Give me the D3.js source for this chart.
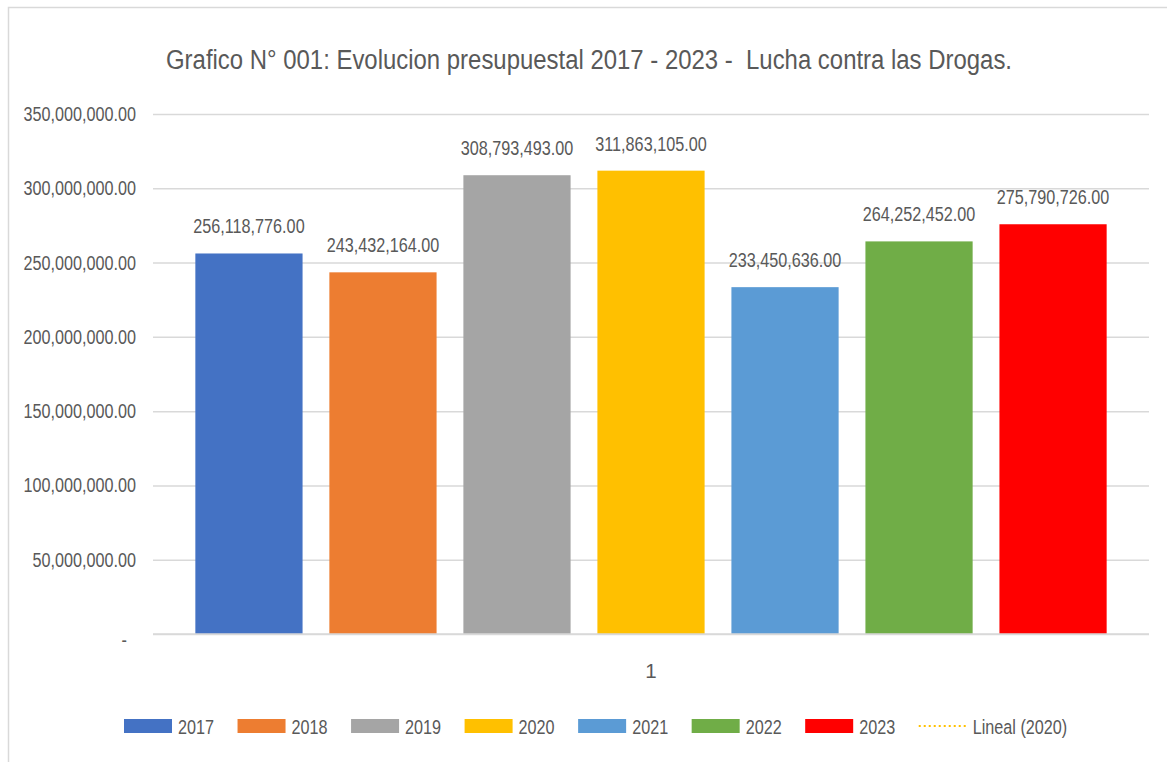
<!DOCTYPE html>
<html>
<head>
<meta charset="utf-8">
<script src="https://cdn.jsdelivr.net/npm/d3@7"></script>
<style>
  body { margin: 0; background: #fff; }
  svg { display: block; }
  text { font-family: "Liberation Sans", Arial, sans-serif; fill: #595959; }
</style>
</head>
<body>
<div id="chart"></div>
<script>
// chart data
var years = ["2017", "2018", "2019", "2020", "2021", "2022", "2023"];
var budget = [256118776.00, 243432164.00, 308793493.00, 311863105.00, 233450636.00, 264252452.00, 275790726.00];
var barColors = ["#4472C4", "#ED7D31", "#A5A5A5", "#FFC000", "#5B9BD5", "#70AD47", "#FF0000"];
var yTicks = [0, 50000000, 100000000, 150000000, 200000000, 250000000, 300000000, 350000000];
var categoryLabel = "1";
var trendLabel = "Lineal (2020)";
var title = "Grafico N° 001: Evolucion presupuestal 2017 - 2023 -  Lucha contra las Drogas.";

var svgWidth = 1167, svgHeight = 762;
var margin = {top: 114, right: 18, bottom: 128, left: 153};
var squeezeK = 0.79; // narrow the font to look like Calibri

var svg = d3.select('#chart').append('svg')
  .attr('width', svgWidth)
  .attr('height', svgHeight);

var width = svgWidth - margin.left - margin.right;
var height = svgHeight - margin.top - margin.bottom;

function squeeze(sel) {
  sel.each(function() {
    var len = this.getComputedTextLength();
    d3.select(this)
      .attr('textLength', len * squeezeK)
      .attr('lengthAdjust', 'spacingAndGlyphs');
  });
}

// chart frame (only left/top edges visible in the picture)
svg.append('rect')
  .attr('x', 8.5).attr('y', 7.5)
  .attr('width', svgWidth + 20).attr('height', svgHeight + 20)
  .attr('fill', 'none')
  .attr('stroke', '#d9d9d9')
  .attr('stroke-width', 1.5);

svg.append('text')
  .attr('x', 166).attr('y', 69)
  .attr('font-size', 27)
  .attr('textLength', 846)
  .attr('lengthAdjust', 'spacingAndGlyphs')
  .style('white-space', 'pre')
  .text(title);

var g = svg.append('g')
  .attr('transform', 'translate(' + margin.left + ',' + margin.top + ')');

var y = d3.scaleLinear().domain([0, 350000000]).range([height, 0]);
var x = d3.scaleBand().domain(years).range([0, width]).paddingInner(0.2).paddingOuter(0.316);

var fmt = d3.format(',.2f');

// gridlines + tick labels
var yAxis = d3.axisLeft(y)
  .tickValues(yTicks)
  .tickSize(-width)
  .tickPadding(17)
  .tickFormat(function(d) { return d === 0 ? '-' : fmt(d); });

var ya = g.append('g').call(yAxis);
ya.select('.domain').remove();
ya.selectAll('.tick line').attr('stroke', '#d9d9d9').attr('stroke-width', 1.5);
ya.selectAll('.tick text')
  .attr('font-size', 20.5)
  .attr('fill', '#595959')
  .attr('font-family', null);
ya.selectAll('.tick').filter(function(d) { return d === 0; }).select('text')
  .attr('dx', -9).attr('dy', '0.62em');
squeeze(ya.selectAll('.tick text'));

// bars
g.selectAll('.bar')
  .data(budget)
  .enter().append('rect')
  .attr('class', 'bar')
  .attr('x', function(d, i) { return x(years[i]); })
  .attr('y', function(d) { return y(d); })
  .attr('width', x.bandwidth())
  .attr('height', function(d) { return height - y(d); })
  .attr('fill', function(d, i) { return barColors[i]; });

// baseline on top of bars
g.append('line')
  .attr('x1', 0).attr('x2', width)
  .attr('y1', y(0)).attr('y2', y(0))
  .attr('stroke', '#d9d9d9').attr('stroke-width', 1.5);

// data labels
var labels = g.selectAll('.lbl')
  .data(budget)
  .enter().append('text')
  .attr('class', 'lbl')
  .attr('x', function(d, i) { return x(years[i]) + x.bandwidth() / 2; })
  .attr('y', function(d) { return y(d) - 20; })
  .attr('text-anchor', 'middle')
  .attr('font-size', 20.5)
  .text(function(d) { return fmt(d); });
squeeze(labels);

// category label
g.append('text')
  .attr('x', width / 2).attr('y', height + 44)
  .attr('text-anchor', 'middle')
  .attr('font-size', 20.5)
  .text(categoryLabel);

// legend
var legend = svg.append('g').attr('transform', 'translate(124,726)');
var lx = 0;
years.forEach(function(yr, i) {
  var item = legend.append('g').attr('transform', 'translate(' + lx + ',0)');
  item.append('rect')
    .attr('x', 0).attr('y', -7)
    .attr('width', 48).attr('height', 14)
    .attr('fill', barColors[i]);
  var t = item.append('text')
    .attr('x', 54).attr('y', 7.5)
    .attr('font-size', 20.5)
    .text(yr);
  var w = t.node().getComputedTextLength();
  squeeze(t);
  lx += 54 + w * squeezeK + 23.5;
});
var trend = legend.append('g').attr('transform', 'translate(' + lx + ',0)');
trend.append('line')
  .attr('x1', 0).attr('x2', 48)
  .attr('y1', 0).attr('y2', 0)
  .attr('stroke', '#FFC000')
  .attr('stroke-width', 2)
  .attr('stroke-dasharray', '2 3');
squeeze(trend.append('text')
  .attr('x', 54).attr('y', 7.5)
  .attr('font-size', 20.5)
  .text(trendLabel));
</script>
</body>
</html>
